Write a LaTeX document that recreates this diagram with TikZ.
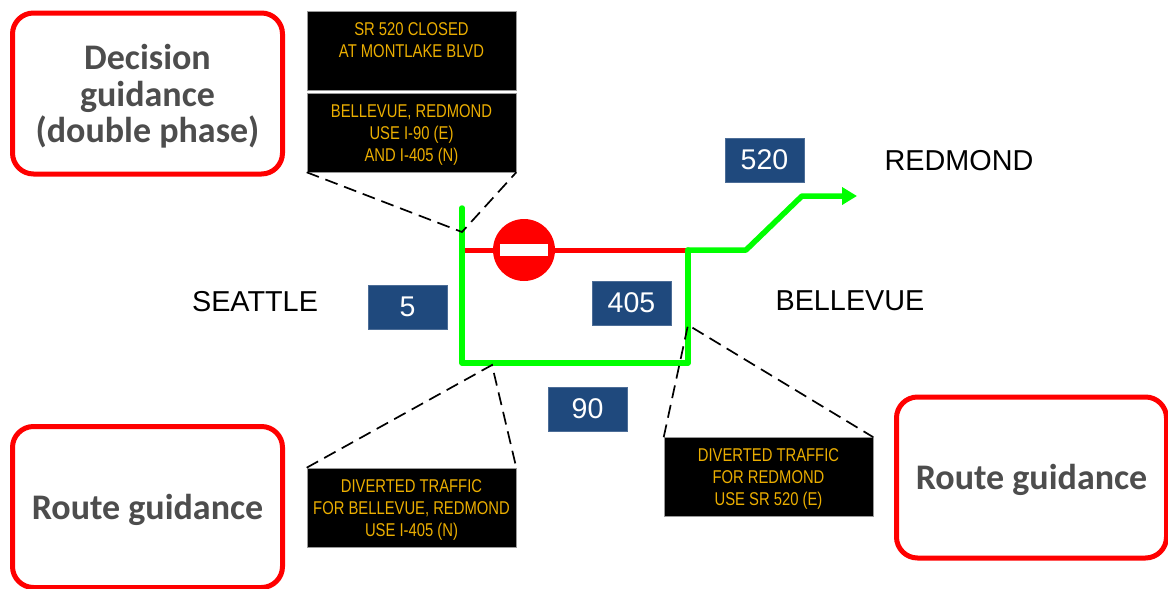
\documentclass[tikz,border=0pt]{standalone}
\usepackage{fontspec}
\setmainfont{Liberation Sans}
\newfontfamily\signfont[FakeStretch=0.80]{Liberation Sans}
\newfontfamily\guidefont{Carlito}
\usepackage{xcolor}
\usetikzlibrary{arrows.meta}
\definecolor{sign-amber}{HTML}{EBAE00}
\definecolor{road-blue}{HTML}{1F497D}
\definecolor{guide-gray}{HTML}{4D4D4D}
\newcommand{\guidetop}{\rule{0pt}{31pt}}
\newcommand{\signtop}{\rule{0pt}{17.5pt}}
\tikzset{
    guide-box/.style = {draw=red, fill=white, line width=5pt, rectangle, rounded corners=21pt, minimum width=270pt, minimum height=161pt, align=center, text=guide-gray, font=\guidefont\fontsize{36}{36.5}\selectfont\bfseries},
    sign-box/.style = {draw=gray!80, fill=black, line width=0.6pt, rectangle, minimum width=209pt, minimum height=79pt, inner sep=0pt, align=center, text=sign-amber, font=\signfont\fontsize{18.5}{22}\selectfont},
    road-label/.style = {draw=road-blue!80, fill=road-blue, line width=0.4pt, rectangle, minimum width=79pt, minimum height=44pt, inner sep=0pt, text=white, font=\fontsize{28.5}{30}\selectfont},
    city-label/.style = {inner sep=0pt, text=black, font=\fontsize{28.8}{30}\selectfont},
    open-road/.style = {draw={rgb,255:red,0;green,255;blue,0}, line width=5.5pt, line join=round, line cap=round},
    closed-road/.style = {draw=red, line width=5pt},
    sign-lead/.style = {draw=black, line width=1.7pt, dash pattern=on 13pt off 7pt},
}

\begin{document}
\begin{tikzpicture}[x=1pt, y=-1pt]
\useasboundingbox (0,0) rectangle (1168,589);
\begin{scope}
\clip (0,0) rectangle (1168,589);
\node [guide-box] (decision) at (147.5,93.5) {\guidetop Decision\\guidance\\(double phase)};
\node [guide-box] (route-left) at (147.5,507) {\guidetop Route guidance};
\node [guide-box] (route-right) at (1031.5,477.5) {\guidetop Route guidance};
\end{scope}

\node [sign-box] (sign-closed) at (411.5,50.5) {\rule{0pt}{14.5pt}SR 520 CLOSED\\AT MONTLAKE BLVD\\~};
\node [sign-box] (sign-use) at (411.5,132.5) {\signtop BELLEVUE, REDMOND\\USE I-90 (E)\\AND I-405 (N)};
\node [sign-box] (sign-bellevue) at (411.5,507.5) {\signtop DIVERTED TRAFFIC\\FOR BELLEVUE, REDMOND\\USE I-405 (N)};
\node [sign-box] (sign-redmond) at (768.5,477) {\signtop DIVERTED TRAFFIC\\FOR REDMOND\\USE SR 520 (E)};

\node [road-label] (road-5) at (407.5,307) {5};
\node [road-label] (road-405) at (631.5,303) {405};
\node [road-label] (road-90) at (587.5,409) {90};
\node [road-label] (road-520) at (764.5,160) {520};

\node [city-label] (seattle) at (255,302) {SEATTLE};
\node [city-label] (bellevue) at (850,301) {BELLEVUE};
\node [city-label] (redmond) at (959,161) {REDMOND};

\coordinate (west-top) at (462,208);
\coordinate (west-mid) at (462,250);
\coordinate (south-west) at (462,363);
\coordinate (south-east) at (688,363);
\coordinate (east-mid) at (688,250);
\coordinate (ramp-low) at (746,250);
\coordinate (ramp-high) at (802,196);
\coordinate (road-end) at (857,196);
\coordinate (lead-top) at (462,232);
\coordinate (lead-south) at (492,365);
\coordinate (lead-east) at (688,325);

\draw [closed-road] (west-mid) -- (east-mid);
\node [circle, fill=red, minimum size=62pt, inner sep=0pt] (no-entry) at (524,250) {};
\node [rectangle, fill=white, minimum width=48pt, minimum height=11.5pt, inner sep=0pt] (no-entry-bar) at (no-entry) {};
\draw [open-road] (west-top) -- (south-west) -- (south-east) -- (east-mid);
\draw [open-road, -{Triangle[length=15pt, width=17pt]}] (east-mid) -- (ramp-low) -- (ramp-high) -- (road-end);

\draw [sign-lead] (sign-use.south west) -- (lead-top) -- (sign-use.south east);
\draw [sign-lead] (sign-bellevue.north west) -- (lead-south) -- (sign-bellevue.north east);
\draw [sign-lead] (sign-redmond.north west) -- (lead-east) -- (sign-redmond.north east);
\end{tikzpicture}
\end{document}
